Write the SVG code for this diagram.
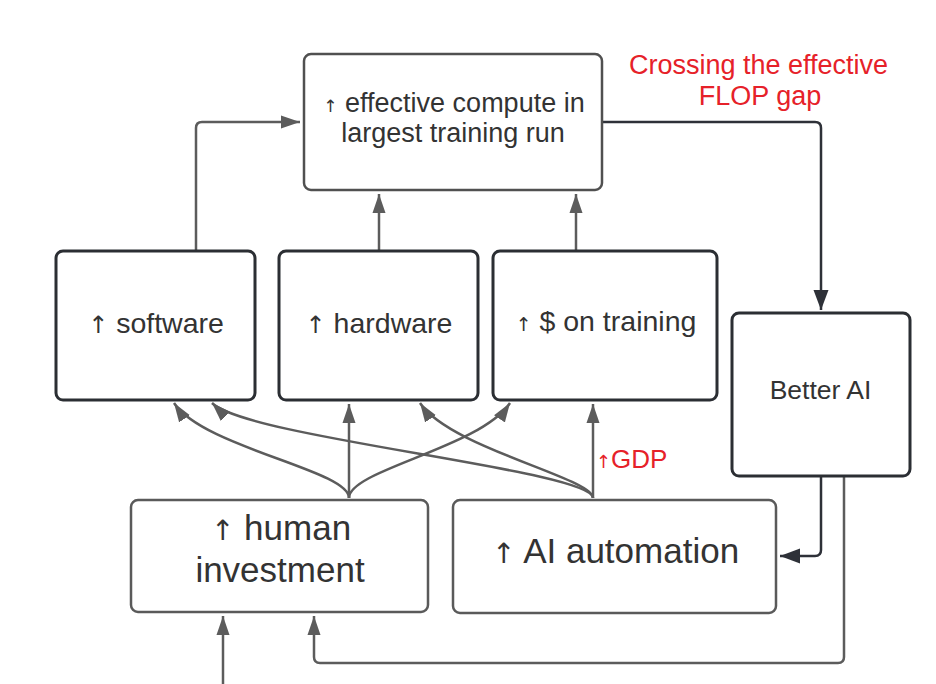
<svg xmlns="http://www.w3.org/2000/svg" width="936" height="684" viewBox="0 0 936 684">
<style>
.box{fill:#fff;stroke-width:2.5}
.bg{stroke:#505050}
.bd{stroke:#2b2e33;stroke-width:3}
.bl{stroke:#5a5a5a}
.t{font-family:"Liberation Sans",Arial,sans-serif;fill:#333;text-anchor:middle}
.red{font-family:"Liberation Sans",Arial,sans-serif;fill:#e62129;text-anchor:middle}
.ar{font-family:"DejaVu Sans",sans-serif}
.c{fill:none;stroke:#5c5c5c;stroke-width:2.5}
.cd{fill:none;stroke:#2e3138;stroke-width:2.5}
</style>
<defs>
<marker id="ah" markerUnits="userSpaceOnUse" markerWidth="20" markerHeight="14" refX="19" refY="7" orient="auto">
<path d="M0,0.5 L19,7 L0,13.5 z" fill="#5c5c5c"/>
</marker>
<marker id="ahd" markerUnits="userSpaceOnUse" markerWidth="20" markerHeight="16" refX="20" refY="8" orient="auto">
<path d="M0,0.5 L20,8 L0,15.5 z" fill="#2e3138"/>
</marker>
</defs>

<g id="connectors">
<path class="c" d="M196,251 V128 Q196,122 202,122 H300" marker-end="url(#ah)"/>
<path class="c" d="M379,251 V194" marker-end="url(#ah)"/>
<path class="c" d="M576,251 V194" marker-end="url(#ah)"/>
<path class="cd" d="M602,122 H815 Q821,122 821,128 V310" marker-end="url(#ahd)"/>
<path class="cd" d="M821,476 V550 Q821,556 815,556 H780" marker-end="url(#ahd)"/>
<path class="c" d="M844,476 V657 Q844,663 838,663 H320 Q314,663 314,657 V616" marker-end="url(#ah)"/>
<path class="c" d="M223,684 V616" marker-end="url(#ah)"/>
<path class="c" d="M349,498 V404" marker-end="url(#ah)"/>
<path class="c" d="M349,498 C349,470 204,448 174,403" marker-end="url(#ah)"/>
<path class="c" d="M349,498 C349,470 480,448 510,403" marker-end="url(#ah)"/>
<path class="c" d="M593,498 V404" marker-end="url(#ah)"/>
<path class="c" d="M593,498 C593,470 247,438 212,403" marker-end="url(#ah)"/>
<path class="c" d="M593,498 C593,478 450,448 420,403" marker-end="url(#ah)"/>
</g>

<g id="node-compute">
<rect class="box bg" x="304" y="54" width="298" height="136" rx="7"/>
<text class="t" font-size="27"><tspan x="454" y="112"><tspan class="ar" font-size="17">↑</tspan> effective compute in</tspan><tspan x="453" y="142">largest training run</tspan></text>
</g>

<g id="label-flop">
<text class="red" font-size="27"><tspan x="758.5" y="74">Crossing the effective</tspan><tspan x="760" y="105">FLOP gap</tspan></text>
</g>

<g id="node-software">
<rect class="box bd" x="56" y="251" width="199" height="149" rx="7"/>
<text class="t" x="156" y="333" font-size="28.5"><tspan class="ar" font-size="24">↑</tspan> software</text>
</g>

<g id="node-hardware">
<rect class="box bd" x="279" y="251" width="199" height="149" rx="7"/>
<text class="t" x="379" y="333" font-size="28.5"><tspan class="ar" font-size="24">↑</tspan> hardware</text>
</g>

<g id="node-training">
<rect class="box bd" x="493" y="251" width="224" height="149" rx="7"/>
<text class="t" x="606" y="331" font-size="28.5"><tspan class="ar" font-size="19">↑</tspan> $ on training</text>
</g>

<g id="node-better-ai">
<rect class="box bd" x="732" y="313" width="178" height="163" rx="7"/>
<text class="t" x="820.5" y="399" font-size="26.5">Better AI</text>
</g>

<g id="node-human">
<rect class="box bl" x="131" y="500" width="297" height="112" rx="7"/>
<text class="t" font-size="35"><tspan x="281" y="540"><tspan class="ar" font-size="28">↑</tspan> human</tspan><tspan x="280" y="582">investment</tspan></text>
</g>

<g id="node-automation">
<rect class="box bl" x="453" y="500" width="323" height="113" rx="7"/>
<text class="t" x="615.5" y="563" font-size="35"><tspan class="ar" font-size="28">↑</tspan> AI automation</text>
</g>

<g id="label-gdp">
<text class="red" x="596" y="468" font-size="26" style="text-anchor:start"><tspan class="ar" font-size="18">↑</tspan>GDP</text>
</g>
</svg>
